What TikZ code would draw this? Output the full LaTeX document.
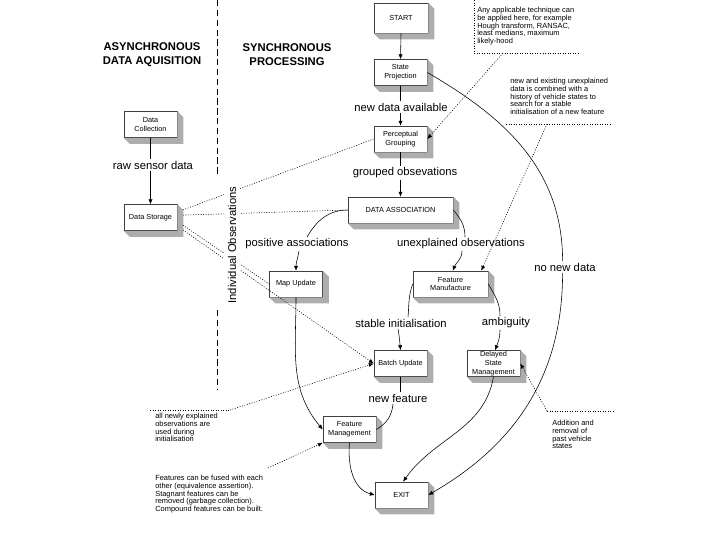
\documentclass[tikz,border=0pt]{standalone}
\usepackage{fontspec}
\setmainfont{Liberation Sans}
\usetikzlibrary{arrows.meta}

\tikzset{
  procbox/.style={draw=black!75, fill=white, line width=0.4pt, inner sep=0pt, align=center,
    minimum width=1.325cm, minimum height=0.65cm, font=\fontsize{5.2}{6.2}\selectfont},
  boxside/.style={fill=black!32},
  flowlabel/.style={fill=white, inner sep=1pt, font=\fontsize{8}{9.6}\selectfont},
  heading/.style={align=center, font=\bfseries\fontsize{8}{10}\selectfont},
  note/.style={anchor=north west, align=left, inner sep=0pt, font=\fontsize{5.3}{5.4}\selectfont},
  flow/.style={line width=0.4pt},
  hint/.style={line width=0.4pt, dash pattern=on 0.7pt off 1.1pt},
  sepline/.style={line width=0.5pt, dash pattern=on 4.5pt off 2.5pt}
}

\begin{document}
\begin{tikzpicture}[x=0.025cm, y=0.025cm, >={Latex[length=3.5pt,width=3pt]}]
            \useasboundingbox (0,0) rectangle (720,-540);

            \node[heading] (async) at (152,-55) {ASYNCHRONOUS\\DATA AQUISITION};
            \node[heading] (sync) at (287,-55) {SYNCHRONOUS\\PROCESSING};
            \draw[sepline] (217,0) -- (217,-177);
            \draw[sepline] (217,-310) -- (217,-390);

            \node[procbox, minimum width=1.35cm, minimum height=0.75cm] (start) at (401,-18) {START};
            \node[procbox] (sproj) at (400.5,-72.5) {State\\Projection};
            \node[procbox] (pgroup) at (400.5,-139) {Perceptual\\Grouping};
            \node[procbox, minimum width=2.625cm] (dassoc) at (400.5,-210) {DATA ASSOCIATION};
            \node[procbox] (dcoll) at (150.5,-124.5) {Data\\Collection};
            \node[procbox] (dstore) at (150.5,-217.5) {Data Storage};
            \node[procbox] (mapupd) at (296,-284) {Map Update};
            \node[procbox, minimum width=1.875cm] (fmanu) at (450.5,-284) {Feature\\Manufacture};
            \node[procbox] (bupd) at (400.5,-363.5) {Batch Update};
            \node[procbox, font=\fontsize{5.2}{6.6}\selectfont] (dsm) at (493.5,-363.5) {Delayed\\State\\Management};
            \node[procbox] (fmgmt) at (349.5,-429.5) {Feature\\Management};
            \node[procbox] (exit) at (401.5,-495) {EXIT};

            \foreach \bx in {start,sproj,pgroup,dassoc,dcoll,dstore,mapupd,fmanu,bupd,dsm,fmgmt,exit}
              \fill[boxside] (\bx.north east) -- ++(6,-6) -- ([shift={(6,-6)}]\bx.south east)
                -- ([shift={(6,-6)}]\bx.south west) -- (\bx.south west) -- (\bx.south east) -- cycle;

            \node[flowlabel] (lnewdata) at (401,-107) {new data available};
            \node[flowlabel] (lgrouped) at (405,-173) {grouped obsevations};
            \node[flowlabel] (lraw) at (153,-165) {raw sensor data};
            \node[flowlabel] (lposassoc) at (297,-244) {positive associations};
            \node[flowlabel] (lunexpl) at (461,-244) {unexplained observations};
            \node[flowlabel] (lnonew) at (565,-267) {no new data};
            \node[flowlabel] (lstable) at (401,-323) {stable initialisation};
            \node[flowlabel] (lambig) at (506,-323) {ambiguity};
            \node[flowlabel] (lnewfeat) at (398,-398) {new feature};

            \draw[flow,->] (start.south) -- (sproj.north);
            \draw[flow] (sproj.south) -- (sproj.south |- lnewdata.north);
            \draw[flow,->] (sproj.south |- lnewdata.south) -- (pgroup.north);
            \draw[flow] (pgroup.south) -- (pgroup.south |- lgrouped.north);
            \draw[flow,->] (pgroup.south |- lgrouped.south) -- (dassoc.north);
            \draw[flow] (dcoll.south) -- (dcoll.south |- lraw.north);
            \draw[flow,->] (dcoll.south |- lraw.south) -- (dstore.north);

            \draw[flow] (dassoc.west) to[out=180,in=60] ([xshift=2.5mm]lposassoc.north);
            \draw[flow,->] ([xshift=0.5mm]lposassoc.south) to[out=-100,in=90] (mapupd.north);
            \draw[flow] (dassoc.east) to[out=-50,in=90] ([xshift=1mm]lunexpl.north);
            \draw[flow,->] ([xshift=0.25mm]lunexpl.south) to[out=-90,in=70] ([xshift=0.6mm]fmanu.north);
            \draw[flow] (fmanu.west) to[out=-110,in=85] ([xshift=1.75mm]lstable.north);
            \draw[flow,->] ([xshift=-0.75mm]lstable.south) to[out=-80,in=95] (bupd.north);
            \draw[flow] (fmanu.east) to[out=-60,in=90] ([xshift=-1.5mm]lambig.north);
            \draw[flow,->] ([xshift=-1.5mm]lambig.south) to[out=-90,in=70] ([xshift=0.4mm]dsm.north);
            \draw[flow] (bupd.south) -- (bupd.south |- lnewfeat.north);
            \draw[flow] ([xshift=-1.25mm]lnewfeat.south) to[out=-95,in=30] (fmgmt.east);
            \draw[flow,->] (mapupd.south) to[out=-90,in=130] (fmgmt.west);
            \draw[flow,->] (fmgmt.south) to[out=-95,in=165] (exit.west);
            \draw[flow,->] (dsm.south) to[out=-100,in=55] ([xshift=0.4mm]exit.north);
            \draw[flow] (sproj.east) to[out=-30,in=90] ([xshift=-0.6mm]lnonew.north);
            \draw[flow,->] ([xshift=-0.6mm]lnonew.south) to[out=-90,in=30] (exit.east);

            \draw[hint] (474,0) -- (474,-53) -- (580,-53);
            \node[note] (noteA) at (477,-7.3) {Any applicable technique can\\be applied here, for example\\Hough transform, RANSAC,\\least medians, maximum\\likely-hood};
            \coordinate (hintA) at (503,-53);
            \draw[hint,->] (hintA) -- (pgroup.east);

            \node[note] (noteB) at (510,-78.3) {new and existing unexplained\\data is combined with a\\history of vehicle states to\\search for a stable\\initialisation of a new feature};
            \draw[hint] (506,-124) -- (612,-124);
            \coordinate (hintB) at (547,-124);
            \draw[hint,->] (hintB) -- ([xshift=-1.75mm]fmanu.north east);

            \draw[hint] (547,-411) -- (615,-411);
            \node[note] (noteC) at (552,-420.3) {Addition and\\removal of\\past vehicle\\states};
            \coordinate (hintC) at (547,-411);
            \draw[hint,->] (hintC) -- (dsm.east);

            \draw[hint] (150,-410) -- (230,-410);
            \node[note] (noteD) at (155,-413.3) {all newly explained\\observations are\\used during\\initialisation};
            \coordinate (hintD) at (230,-410);
            \draw[hint,->] (hintD) -- (bupd.west);

            \node[note] (noteE) at (155,-475.3) {Features can be fused with each\\other (equivalence assertion).\\Stagnant features can be\\removed (garbage collection).\\Compound features can be built.};
            \coordinate (hintE) at (268,-468);
            \draw[hint,->] (hintE) -- (fmgmt.south west);

            \draw[hint] ([xshift=1.4mm,yshift=1.9mm]dstore.east) -- (pgroup.west);
            \draw[hint] ([xshift=1.4mm,yshift=0.6mm]dstore.east) -- (dassoc.west);
            \draw[hint] ([xshift=1.4mm,yshift=-1.9mm]dstore.east) -- (mapupd.west);
            \draw[hint,->] ([xshift=1.4mm,yshift=-3.1mm]dstore.east) -- (bupd.west);

            \node[flowlabel, rotate=90, inner sep=2.5pt] (indobs) at (232,-245) {Individual Observations};
        \end{tikzpicture}
\end{document}
